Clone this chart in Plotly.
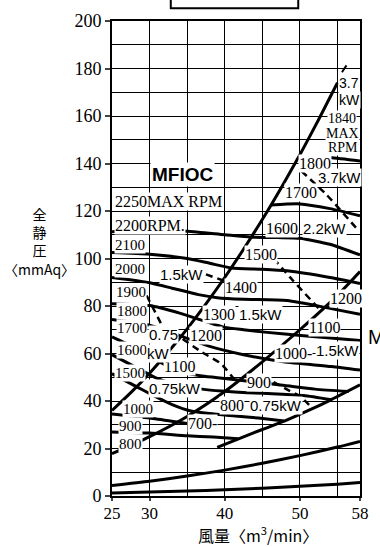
import plotly.graph_objects as go

# ---------------- data ----------------
x_ticks = [25, 30, 40, 50, 58]
x_minor = [35, 45, 55]
y_ticks = [0, 20, 40, 60, 80, 100, 120, 140, 160, 180, 200]

# system resistance curves
sys1_x = [25, 27.5, 30, 32.5, 35, 37.5, 40, 42.5, 45, 47.5, 50, 52.5, 55]
sys1_y = [36, 43.5, 51.7, 60.7, 70.4, 80.9, 92, 103.9, 116.4, 129.7, 143.7, 158.5, 174]
sys2_x = [25, 30, 35, 40, 45, 50, 55, 58]
sys2_y = [17.8, 25, 33.5, 44, 56.5, 70, 84.5, 94.5]
sys3_x = [39, 42, 45, 48, 51, 54, 58]
sys3_y = [20.5, 24.3, 28, 31.6, 35.8, 40.3, 46.8]
sys4_x = [25, 30, 35, 40, 45, 50, 55, 58]
sys4_y = [4.4, 6.2, 8.4, 10.9, 13.8, 17, 20.6, 23]
sys5_x = [25, 30, 35, 40, 45, 50, 55, 58]
sys5_y = [1.3, 1.7, 2.1, 2.6, 3.3, 4.1, 5.0, 5.7]

# fan speed curves (pressure vs. flow)
fan_curves = {
    "2200/1600": ([25, 30, 35, 40, 43.5, 47, 50, 54, 58],
                  [111.3, 112, 111.5, 110, 109, 108.8, 108.5, 106, 101.5]),
    "2100/1500": ([25, 30, 35, 38, 40.9, 45, 48.3, 54, 58],
                  [102.5, 101.8, 100, 98, 96, 95.5, 94.8, 92, 89.5]),
    "2000/1400": ([25, 30, 33, 36.5, 39, 42.5, 48.3, 54, 58],
                  [92, 89.8, 87.5, 84.8, 83.5, 82.8, 82.3, 79, 76.5]),
    "1900/1300": ([25, 30, 34, 37.7, 40, 42.5, 45.3, 50.5, 58],
                  [81, 80.2, 77, 73.2, 71, 70, 69, 67.5, 65.5]),
    "1800/1200": ([25, 30, 34, 38, 42.5, 47.8, 54.2, 58],
                  [74.3, 71.9, 67.5, 63, 59.5, 56.5, 54.5, 53]),
    "1700/1100": ([25, 28, 31, 34, 37, 40, 44, 48, 52, 56.5],
                  [67, 62.5, 57, 52.5, 50.5, 49.5, 48, 46.5, 45, 44]),
    "1600/900": ([25, 28, 31, 34, 37, 39.6, 43, 47, 50.5, 54.2],
                 [59.5, 54.5, 49.5, 46.5, 45, 44.2, 43.5, 43, 42.3, 40.5]),
    "1500/800": ([25, 28, 31, 33, 35.5, 38, 41.4, 44.5, 47.9],
                 [51.5, 46.5, 41.5, 38.5, 35.8, 34.7, 33.7, 32.8, 31.6]),
    "1000": ([25, 30, 35, 37.5], [34.5, 32.8, 30.5, 29.5]),
    "900/700": ([25, 30, 35, 38.5, 41.8], [27, 26.5, 25.4, 24.8, 24.1]),
    "1700B": ([46.2, 50, 54, 58], [122.5, 123, 121, 118]),
    "1800B": ([49.8, 54, 58], [143, 142.5, 141]),
}
# motor power limit lines (dashed)
power_lines = [
    ([29.6, 31.9], [84.4, 70.3]),
    ([34.4, 37, 39.5, 41.3], [66.1, 60.5, 55.7, 49]),
    ([36, 40], [95, 90.5]),
    ([46.5, 49, 52.5], [100, 91, 79]),
    ([50.2, 53.5, 57.9], [136.8, 127, 111.4]),
    ([46.5, 48.5, 50, 51.5], [48, 44.5, 42, 37.5]),
]
tick_mark = ([55.6, 56.2], [178.4, 181.3])

# (text, x, y, anchor, size)
labels_serif = [
    ("2250MAX RPM", 25.3, 123.9, "left", 16),
    ("2200RPM.", 25.3, 114, "left", 16),
    ("2100", 25.3, 105.6, "left", 15),
    ("2000", 25.3, 95.6, "left", 15),
    ("1900", 25.4, 86, "left", 15),
    ("1800", 25.5, 77.8, "left", 15),
    ("1700", 25.5, 70.7, "left", 15),
    ("1600", 25.5, 61.5, "left", 15),
    ("1500", 25.3, 51.6, "left", 15),
    ("1000", 26.3, 36.6, "left", 15),
    ("900", 25.8, 29.5, "left", 15),
    ("800", 25.8, 22, "left", 15),
    ("1400", 42.2, 87.7, "center", 16),
    ("1300", 41.45, 76.5, "right", 16),
    ("1200", 37.5, 67.4, "center", 16),
    ("1100", 34, 54.5, "center", 16),
    ("700-", 37.1, 30.4, "center", 16),
    ("900", 44.5, 47.8, "center", 16),
    ("800", 42.7, 38.3, "right", 16),
    ("1000-", 51.7, 59.8, "right", 16),
    ("1100", 53.3, 71.1, "center", 16),
    ("1200", 56.1, 83.2, "center", 16),
    ("1500", 44.8, 101.5, "center", 16),
    ("1600", 49.9, 112.7, "right", 16),
    ("1700", 50.1, 127.7, "center", 16),
    ("1800", 52, 140.1, "center", 16),
    ("1840", 55.6, 159.0, "center", 14),
    ("MAX", 55.7, 152.8, "center", 14),
    ("RPM", 55.8, 146.6, "center", 14),
]
labels_kw = [
    ("1.5kW", 34.3, 93.1, "center", 15),
    ("0.75", 31.8, 67.8, "center", 15),
    ("kW", 31.2, 60.1, "center", 15),
    ("1.5kW", 41.8, 76.5, "left", 15),
    ("0.75kW", 33.4, 45.3, "center", 15),
    ("0.75kW", 43.25, 38.3, "left", 15),
    ("1.5kW", 52.0, 61.3, "left", 15),
    ("2.2kW", 50.3, 112.7, "left", 15),
    ("3.7kW", 55.3, 133.9, "center", 15),
    ("3.7", 56.6, 174.0, "center", 14),
    ("kW", 56.6, 166.8, "center", 14),
]

SERIF = "Liberation Serif, Times New Roman, serif"
SANS = "Liberation Sans, Arial, sans-serif"

# ---------------- figure ----------------
fig = go.Figure()

def add_line(xs, ys, width=3, dash="solid"):
    fig.add_trace(go.Scatter(x=xs, y=ys, mode="lines", hoverinfo="skip",
                             line=dict(color="black", width=width, dash=dash, shape="spline", smoothing=0.6),
                             showlegend=False))

for xs, ys in [(sys1_x, sys1_y), (sys2_x, sys2_y), (sys3_x, sys3_y), (sys4_x, sys4_y), (sys5_x, sys5_y)]:
    add_line(xs, ys, 3)
for k, (xs, ys) in fan_curves.items():
    add_line(xs, ys, 3)
for xs, ys in power_lines:
    add_line(xs, ys, 2.5, "7px,5px")
add_line(tick_mark[0], tick_mark[1], 2)

ann = []
for t, x, y, a, s in labels_serif:
    ann.append(dict(x=x, y=y, text=t, showarrow=False, xanchor=a, yanchor="middle",
                    font=dict(family=SERIF, size=s, color="black"),
                    bgcolor="white", borderpad=0))
for t, x, y, a, s in labels_kw:
    ann.append(dict(x=x, y=y, text=t, showarrow=False, xanchor=a, yanchor="middle",
                    font=dict(family=SANS, size=s, color="black"),
                    bgcolor="white", borderpad=0))
ann.append(dict(x=34.4, y=135.5, text="<b>MFIOC</b>", showarrow=False, bgcolor="white",
                xanchor="center", yanchor="middle",
                font=dict(family=SANS, size=19, color="black")))
ann.append(dict(xref="paper", yref="paper", x=-0.292, y=0.536, text="全<br>静<br>圧<br>〈mmAq〉",
                xanchor="center", yanchor="middle",
                showarrow=False, font=dict(family="Noto Sans CJK JP", size=14, color="black")))
ann.append(dict(xref="paper", yref="paper", x=0.588, y=-0.081, text="風量〈m<sup>3</sup>/min〉",
                xanchor="center", yanchor="middle",
                showarrow=False, font=dict(family="Noto Sans CJK JP", size=16, color="black")))
ann.append(dict(xref="paper", yref="paper", x=1.024, y=0.335, text="M",
                xanchor="left", yanchor="middle",
                showarrow=False, font=dict(family=SANS, size=20, color="black")))

fig.update_layout(
    width=380, height=547,
    margin=dict(l=112, r=11, t=15, b=51),
    paper_bgcolor="white", plot_bgcolor="white",
    font=dict(family=SERIF, size=17, color="black"),
    annotations=ann,
    shapes=[dict(type="rect", xref="paper", yref="paper", x0=0.237, x1=0.751, y0=1.027, y1=1.2,
                 line=dict(color="black", width=2))],
)
fig.update_xaxes(range=[25, 58], tickvals=x_ticks, ticks="outside", ticklen=3, tickwidth=2,
                 ticklabelstandoff=-2,
                 showgrid=True, gridcolor="black", gridwidth=1.3,
                 minor=dict(tickvals=x_minor, showgrid=True, gridcolor="black", gridwidth=1.3),
                 showline=True, linecolor="black", linewidth=2, mirror=True,
                 tickfont=dict(family=SERIF, size=17, color="black"))
fig.update_yaxes(range=[0, 200], tickvals=y_ticks, ticks="outside", ticklen=5, tickwidth=2,
                 showgrid=True, gridcolor="black", gridwidth=1.3,
                 minor=dict(dtick=10, showgrid=True, gridcolor="black", gridwidth=1.3),
                 showline=True, linecolor="black", linewidth=2, mirror=True, zeroline=False,
                 tickfont=dict(family=SERIF, size=18, color="black"))

# remove the default 8px page margin so the 380x547 figure fills the window exactly
fig.write_html("out.html", config={"displayModeBar": False},
               post_script="document.body.style.margin='0';")
